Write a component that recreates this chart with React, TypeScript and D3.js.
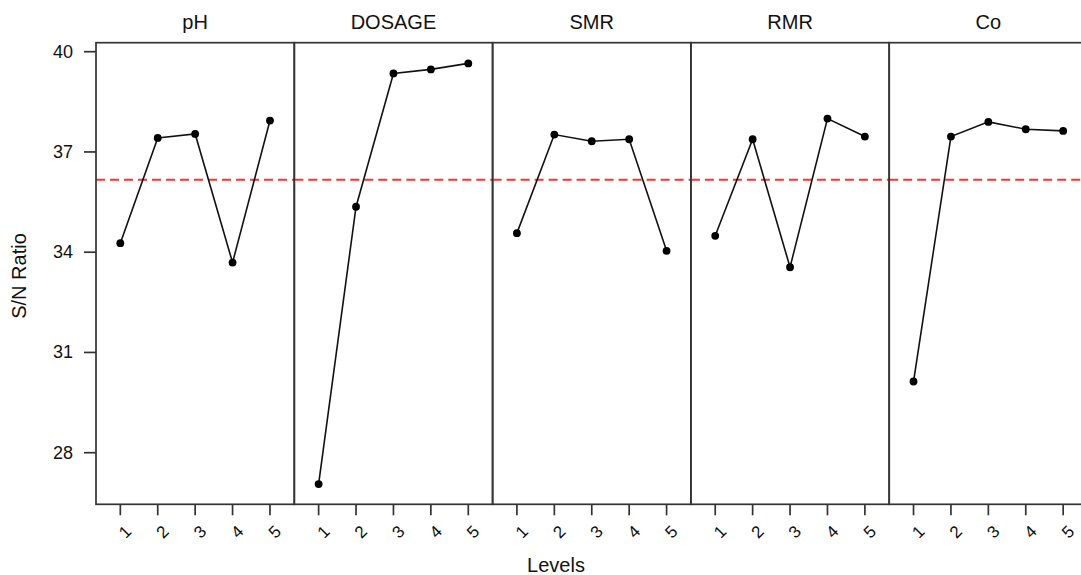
// App.tsx
import React, { useRef, useEffect } from "react";
import * as d3 from "d3";

const factors = ["pH", "DOSAGE", "SMR", "RMR", "Co"];
const levels = ["1", "2", "3", "4", "5"];

const phSN = [34.27, 37.42, 37.54, 33.69, 37.94];
const dosageSN = [27.06, 35.36, 39.35, 39.47, 39.65];
const smrSN = [34.57, 37.52, 37.32, 37.38, 34.04];
const rmrSN = [34.49, 37.38, 33.55, 38.0, 37.46];
const coSN = [30.13, 37.46, 37.9, 37.68, 37.63];

const yTicks = [28, 31, 34, 37, 40];

const seriesList = [phSN, dosageSN, smrSN, rmrSN, coSN];

const App = () => {
  const ref = useRef<SVGSVGElement>(null);

  useEffect(() => {
    const svg = d3.select(ref.current);
    svg.selectAll("*").remove();

    const W = 1081,
      H = 575;
    const left = 96,
      right = 1087.5,
      top = 42.7,
      bottom = 504.3;
    const font = "'Liberation Sans', Arial, Helvetica, sans-serif";
    const ink = "#111";

    const panel = d3.scaleBand().domain(factors).range([left, right]).padding(0);
    const x = d3
      .scalePoint()
      .domain(levels)
      .range([0, panel.bandwidth()])
      .padding(0.65);
    const y = d3.scaleLinear().domain([28, 40]).range([452.7, 51.7]);

    const mean = d3.mean(seriesList.flat()) as number;

    svg.append("rect").attr("width", W).attr("height", H).attr("fill", "#fff");

    factors.forEach((f, i) => {
      const g = svg.append("g").attr("transform", `translate(${panel(f)},0)`);

      // red dashed mean line
      g.append("line")
        .attr("x1", 0)
        .attr("x2", panel.bandwidth())
        .attr("y1", y(mean))
        .attr("y2", y(mean))
        .attr("stroke", "#ff3030")
        .attr("stroke-width", 2)
        .attr("stroke-dasharray", "9,5");

      const line = d3
        .line<number>()
        .x((d, j) => x(levels[j]) as number)
        .y((d) => y(d));

      g.append("path")
        .datum(seriesList[i])
        .attr("fill", "none")
        .attr("stroke", "#111")
        .attr("stroke-width", 1.6)
        .attr("d", line);

      g.selectAll("circle")
        .data(seriesList[i])
        .join("circle")
        .attr("cx", (d, j) => x(levels[j]) as number)
        .attr("cy", (d) => y(d))
        .attr("r", 3.9)
        .attr("fill", "#000");

      // frame
      g.append("rect")
        .attr("x", 0)
        .attr("y", top)
        .attr("width", panel.bandwidth())
        .attr("height", bottom - top)
        .attr("fill", "none")
        .attr("stroke", "#333")
        .attr("stroke-width", 1.7);

      // strip title
      g.append("text")
        .attr("x", panel.bandwidth() / 2)
        .attr("y", 29)
        .attr("text-anchor", "middle")
        .attr("font-family", font)
        .attr("font-size", 20)
        .attr("fill", ink)
        .text(f);

      // x ticks
      levels.forEach((l) => {
        const tx = x(l) as number;
        g.append("line")
          .attr("x1", tx)
          .attr("x2", tx)
          .attr("y1", bottom)
          .attr("y2", bottom + 11)
          .attr("stroke", "#333")
          .attr("stroke-width", 1.7);
        g.append("text")
          .attr("transform", `translate(${tx + 5},${532}) rotate(-45)`)
          .attr("text-anchor", "middle")
          .attr("dominant-baseline", "central")
          .attr("font-family", font)
          .attr("font-size", 17)
          .attr("fill", ink)
          .text(l);
      });
    });

    // y axis
    const yAxis = svg.append("g");
    yTicks.forEach((t) => {
      yAxis
        .append("line")
        .attr("x1", 84)
        .attr("x2", left)
        .attr("y1", y(t))
        .attr("y2", y(t))
        .attr("stroke", "#333")
        .attr("stroke-width", 1.7);
      yAxis
        .append("text")
        .attr("x", 73)
        .attr("y", y(t))
        .attr("text-anchor", "end")
        .attr("dominant-baseline", "central")
        .attr("font-family", font)
        .attr("font-size", 18)
        .attr("fill", ink)
        .text(t);
    });

    svg
      .append("text")
      .attr("transform", `translate(26,276) rotate(-90)`)
      .attr("text-anchor", "middle")
      .attr("font-family", font)
      .attr("font-size", 20)
      .attr("fill", ink)
      .text("S/N Ratio");

    svg
      .append("text")
      .attr("x", 556)
      .attr("y", 572)
      .attr("text-anchor", "middle")
      .attr("font-family", font)
      .attr("font-size", 20)
      .attr("fill", ink)
      .text("Levels");
  }, []);

  return (
    <svg
      ref={ref}
      width={1081}
      height={575}
      style={{ position: "absolute", left: 0, top: 0, display: "block" }}
    />
  );
};

export default App;
